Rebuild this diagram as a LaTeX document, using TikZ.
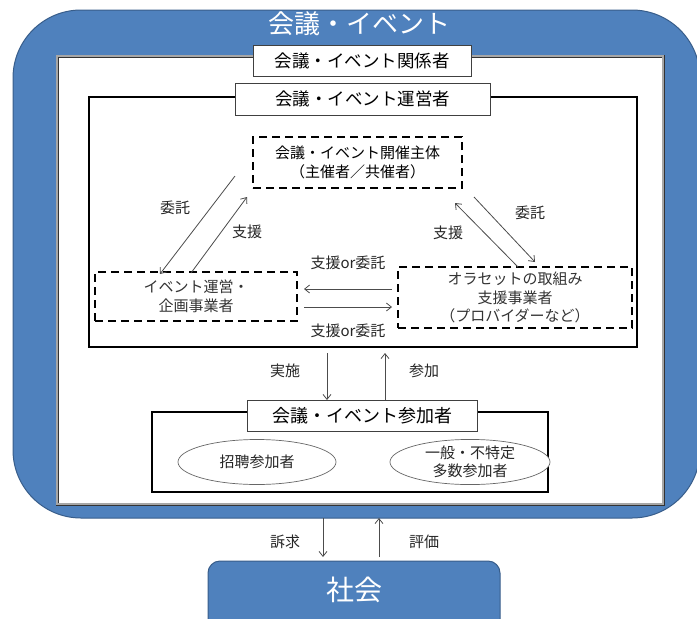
\documentclass[tikz,border=0pt]{standalone}
\usepackage{fontspec}
\setmainfont{Noto Sans CJK JP}
\usetikzlibrary{arrows.meta,shapes.geometric}
\definecolor{ppblue}{HTML}{4F81BD}
\definecolor{ppedge}{HTML}{385D8A}
\begin{document}
\begin{tikzpicture}[x=1pt,y=-1pt,
  fs/.style={font=\fontsize{#1}{\the\numexpr#1*5/4\relax}\selectfont},
  lbl/.style={draw=black!75, line width=0.8pt, fill=white, font=\fontsize{17.5}{20}\selectfont, inner sep=0pt},
  heavy/.style={draw=black, line width=2pt, fill=white, inner sep=0pt},
  dbox/.style={draw=black, line width=2pt, dash pattern=on 8pt off 5pt, fill=white, align=center, inner sep=0pt},
  arr/.style={draw=black!70, line width=0.8pt, -{Straight Barb[length=5pt,width=8pt]}},
  txt/.style={fs=15, text=black!85, inner sep=0pt},
  oval/.style={ellipse, draw=black!60, line width=0.7pt, fill=white, align=center, inner sep=0pt, fs=15, text=black!85},
  bluebox/.style={draw=ppedge, line width=1pt, fill=ppblue, inner sep=0pt}
]
\useasboundingbox (0,0) rectangle (697,619);

% outer blue region
\node[bluebox, rounded corners=68pt, minimum width=687pt, minimum height=508pt] (outer) at (356.5,264) {};
\node[text=white, fs=26, inner sep=0pt] (title) at (359,24) {会議・イベント};

% stakeholder box (double line)
\node[draw=black!80, line width=0.7pt, double=gray!70, double distance=1.6pt, fill=white,
      minimum width=606pt, minimum height=448pt, inner sep=0pt] (kankeibox) at (360,280) {};
\node[lbl, minimum width=218pt, minimum height=31pt] (kankei) at (362,60.5) {会議・イベント関係者};

% operator box
\node[heavy, minimum width=548pt, minimum height=250pt] (uneibox) at (363,222) {};
\node[lbl, minimum width=255pt, minimum height=32pt] (unei) at (362.5,99) {会議・イベント運営者};

% dashed boxes
\node[dbox, fs=15, minimum width=209pt, minimum height=51pt] (shusai) at (357.5,162.5) {会議・イベント開催主体\\（主催者／共催者）};
\node[dbox, fs=15, text=black!80, minimum width=202pt, minimum height=49pt] (kikaku) at (196,296.5) {イベント運営・\\企画事業者};
\node[dbox, font=\fontsize{15}{18.5}\selectfont, text=black!80, minimum width=234pt, minimum height=61pt] (provider) at (515,297.5) {オラセットの取組み\\支援事業者\\（プロバイダーなど）};

% participants
\node[heavy, minimum width=396pt, minimum height=80pt] (sankabox) at (350,452) {};
\node[lbl, font=\fontsize{18}{20}\selectfont, minimum width=230pt, minimum height=31pt] (sanka) at (362,415.5) {会議・イベント参加者};
\node[oval, minimum width=158pt, minimum height=45pt] (shohei) at (257,462) {招聘参加者};
\node[oval, font=\fontsize{15}{18}\selectfont, minimum width=160pt, minimum height=45pt] (ippan) at (470,462) {一般・不特定\\多数参加者};

% society
\node[bluebox, rounded corners=12pt, minimum width=292pt, minimum height=80pt] (shakai) at (354,601) {};
\node[text=white, fs=28, inner sep=0pt] (shakaitxt) at (354,590) {社会};

% arrow end points
\coordinate (a1s) at (235,176); \coordinate (a1e) at (160,274);
\coordinate (a2s) at (191,273); \coordinate (a2e) at (247,197);
\coordinate (a3s) at (474,197); \coordinate (a3e) at (535,262);
\coordinate (a4s) at (518,267); \coordinate (a4e) at (455,203);
\coordinate (h1s) at (392,289); \coordinate (h1e) at (304,289);
\coordinate (h2s) at (304,307); \coordinate (h2e) at (392,307);
\coordinate (v1s) at (327,353); \coordinate (v1e) at (327,400);
\coordinate (v2s) at (385,400); \coordinate (v2e) at (385,353);
\coordinate (s1s) at (323,518); \coordinate (s1e) at (323,557);
\coordinate (s2s) at (379,557); \coordinate (s2e) at (379,518);

\draw[arr] (a1s) -- (a1e);
\draw[arr] (a2s) -- (a2e);
\draw[arr] (a3s) -- (a3e);
\draw[arr] (a4s) -- (a4e);
\draw[arr] (h1s) -- (h1e);
\draw[arr] (h2s) -- (h2e);
\draw[arr] (v1s) -- (v1e);
\draw[arr] (v2s) -- (v2e);
\draw[arr] (s1s) -- (s1e);
\draw[arr] (s2s) -- (s2e);

% labels
\node[txt] (t1) at (175,208) {委託};
\node[txt] (t2) at (247,232) {支援};
\node[txt] (t3) at (530,213) {委託};
\node[txt] (t4) at (448,233) {支援};
\node[txt] (t5) at (348,263) {支援or委託};
\node[txt] (t6) at (348,331) {支援or委託};
\node[txt] (t7) at (285,371) {実施};
\node[txt] (t8) at (424,371) {参加};
\node[txt] (t9) at (285,542) {訴求};
\node[txt] (t10) at (424,542) {評価};
\end{tikzpicture}
\end{document}
